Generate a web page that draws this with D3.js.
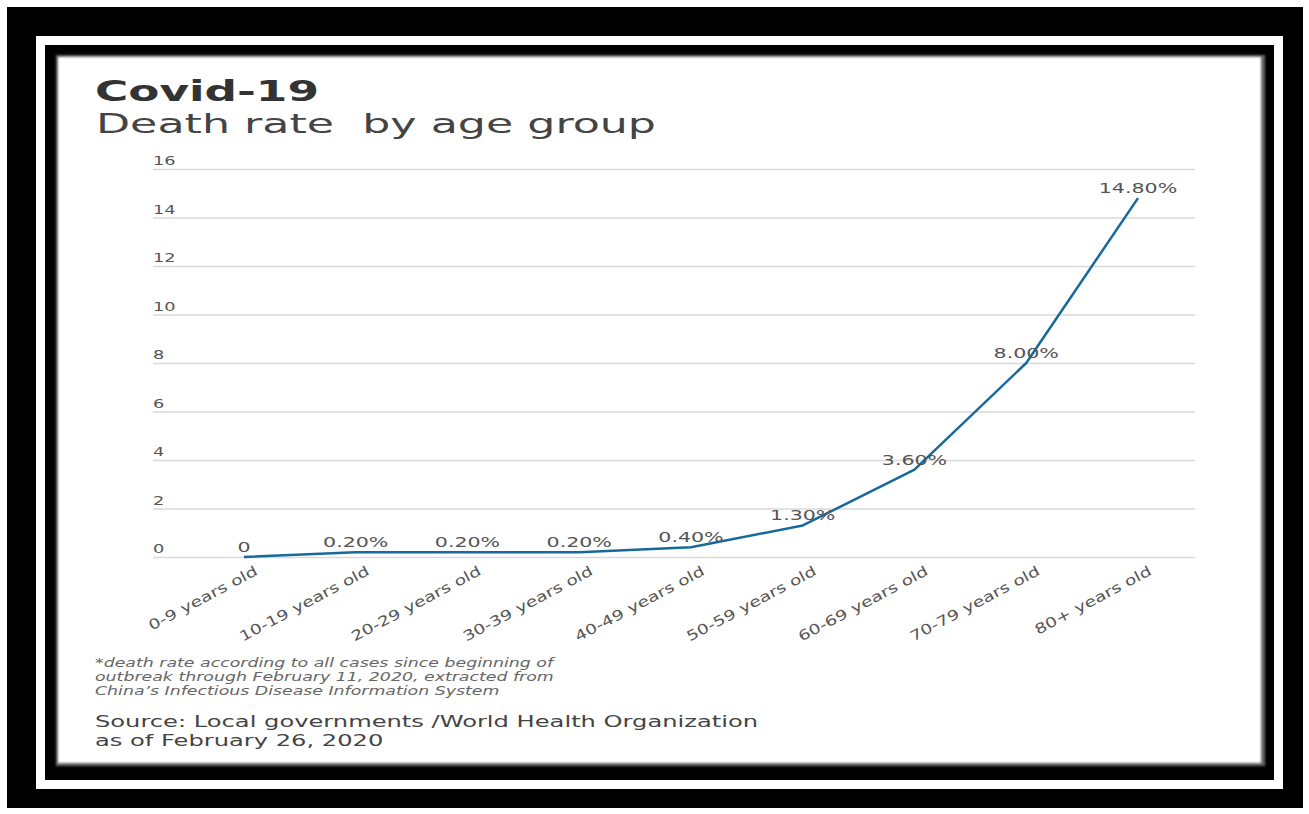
<!DOCTYPE html>
<html><head><meta charset="utf-8">
<script src="https://cdn.jsdelivr.net/npm/d3@7"></script>
<style>
html,body{margin:0;padding:0;background:#fff;}
svg{display:block;}
</style></head>
<body>
<svg id="chart" width="1309" height="814"></svg>
<script>
const categories = ["0-9 years old","10-19 years old","20-29 years old","30-39 years old","40-49 years old","50-59 years old","60-69 years old","70-79 years old","80+ years old"];
const deathRates = [0, 0.2, 0.2, 0.2, 0.4, 1.3, 3.6, 8.0, 14.8];
const valueLabels = ["0","0.20%","0.20%","0.20%","0.40%","1.30%","3.60%","8.00%","14.80%"];
const yTicks = [0, 2, 4, 6, 8, 10, 12, 14, 16];
const titleText = "Covid-19";
const subtitleText = "Death rate  by age group";
const footnoteLines = ["*death rate according to all cases since beginning of","outbreak through February 11, 2020, extracted from","China\u2019s Infectious Disease Information System"];
const sourceLines = ["Source: Local governments /World Health Organization","as of February 26, 2020"];

const svg = d3.select("#chart");
const FONT = "'DejaVu Sans', sans-serif";

// stretch glyphs horizontally (reference text is wide)
function stretch(sel, factor){
  sel.each(function(){
    const w = this.getComputedTextLength();
    d3.select(this).attr("textLength", w*factor).attr("lengthAdjust","spacingAndGlyphs");
  });
}
function stretchTo(sel, target){
  const w = sel.node().getComputedTextLength();
  const k = target / w;
  stretch(sel, k);
  return k;
}

// frame
const defs = svg.append("defs");
const f = defs.append("filter").attr("id","soft").attr("x","-5%").attr("y","-5%").attr("width","110%").attr("height","110%");
f.append("feGaussianBlur").attr("stdDeviation",1.2);

svg.append("rect").attr("x",7).attr("y",7).attr("width",1296).attr("height",801).attr("fill","#000");
svg.append("rect").attr("x",36).attr("y",36).attr("width",1247).attr("height",753).attr("fill","#fff");
svg.append("rect").attr("x",45).attr("y",45).attr("width",1229).attr("height",735).attr("fill","#000");
svg.append("rect").attr("x",56).attr("y",55).attr("width",1209).attr("height",711).attr("fill","#666").attr("filter","url(#soft)");
svg.append("rect").attr("x",58).attr("y",57).attr("width",1203).attr("height",706).attr("fill","#fff").attr("filter","url(#soft)");

// scales
const y = d3.scaleLinear().domain([0,16]).range([557,169]);
const x = d3.scalePoint().domain(categories).range([244,1138]);
const gridX0 = 153, gridX1 = 1195;

// grid + y labels
const yAxis = d3.axisLeft(y).tickValues(yTicks).tickSize(-(gridX1-gridX0)).tickFormat(d3.format("d"));
const yg = svg.append("g").attr("transform",`translate(${gridX0},0)`).call(yAxis);
yg.attr("font-size",null).attr("font-family",null);
yg.select(".domain").remove();
yg.selectAll(".tick line").attr("stroke","#d9d9d9").attr("stroke-width",1.5);
const yt = yg.selectAll(".tick text").attr("x",0).attr("dy","-0.33em").attr("text-anchor","start")
  .attr("fill","#555").style("font-family",FONT).style("font-size","12.5px");
stretch(yt, 1.42);

// x axis labels
const xAxis = d3.axisBottom(x).tickSize(0).tickPadding(0);
const xg = svg.append("g").attr("transform","translate(0,557)").call(xAxis);
xg.attr("font-size",null).attr("font-family",null);
xg.select(".domain").remove();
const xt = xg.selectAll(".tick text")
  .attr("text-anchor","end").attr("y",0).attr("dy",0)
  .attr("transform","translate(14,17) rotate(-28)")
  .attr("fill","#555").style("font-family",FONT).style("font-size","14px");
stretch(xt, 1.32);

// line
const line = d3.line().x((d,i)=>x(categories[i])).y(d=>y(d));
svg.append("path").datum(deathRates).attr("d",line).attr("fill","none")
  .attr("stroke","#17699b").attr("stroke-width",2.5).attr("stroke-linejoin","round");

// value labels
const vl = svg.append("g").selectAll("text").data(deathRates).join("text")
  .attr("x",(d,i)=>x(categories[i])).attr("y",d=>y(d)-5)
  .attr("text-anchor","middle").attr("fill","#555")
  .style("font-family",FONT).style("font-size","14.5px")
  .text((d,i)=>valueLabels[i]);
stretch(vl, 1.42);

// titles
const t1 = svg.append("text").attr("x",95).attr("y",101).attr("fill","#333")
  .style("font-family",FONT).style("font-weight","bold").style("font-size","29px").text(titleText);
stretchTo(t1, 224);
const t2 = svg.append("text").attr("x",96).attr("y",133).attr("fill","#444")
  .style("font-family",FONT).style("font-size","27px").style("white-space","pre").text(subtitleText);
stretchTo(t2, 560);

const fn = svg.append("g");
let k0 = 1;
footnoteLines.forEach((s,i)=>{
  const t = fn.append("text").attr("x",95).attr("y",667+i*14).attr("fill","#666")
    .style("font-family",FONT).style("font-style","italic").style("font-size","11.5px").text(s);
  if(i===0) k0 = stretchTo(t,458); else stretch(t,k0);
});

const sg = svg.append("g");
let k1 = 1;
sourceLines.forEach((s,i)=>{
  const t = sg.append("text").attr("x",95).attr("y",727+i*19).attr("fill","#444")
    .style("font-family",FONT).style("font-size","16px").text(s);
  if(i===0) k1 = stretchTo(t,663); else stretch(t,k1);
});
</script>
</body></html>
